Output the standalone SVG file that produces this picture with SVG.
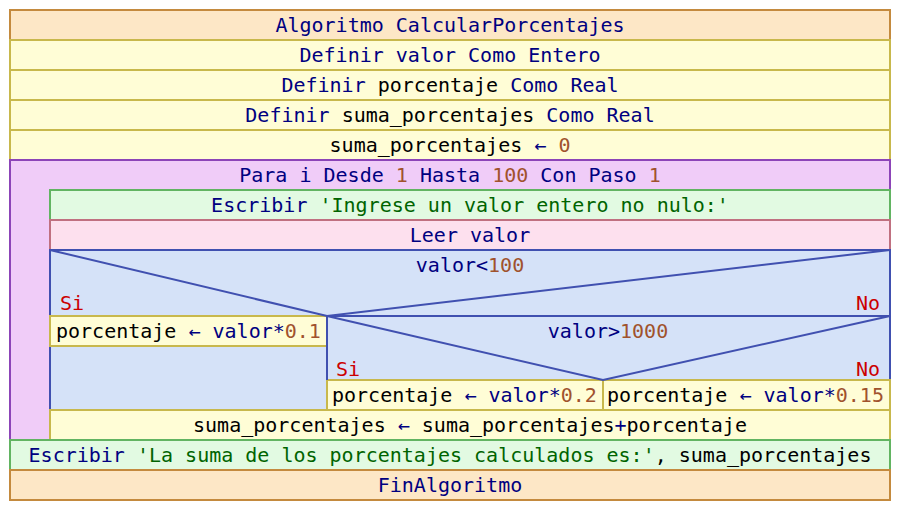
<svg xmlns="http://www.w3.org/2000/svg" width="900" height="512" viewBox="0 0 900 512">
<style>
text{font-family:"DejaVu Sans Mono","Liberation Mono",monospace;font-size:20px;fill:#000080;text-anchor:middle}
.st{text-anchor:start}
.end{text-anchor:end}
.v{fill:#000000}
.n{fill:#a0522d}
.s{fill:#006400}
.r{fill:#cc0000}
.hd{fill:#fde7c6;stroke:#c48a3e;stroke-width:2}
.yl{fill:#fffdd6;stroke:#c8b84c;stroke-width:2}
.pu{fill:#f0ccf8;stroke:#8c44b8;stroke-width:2}
.gr{fill:#e2fae2;stroke:#62b462;stroke-width:2}
.pk{fill:#fde0ee;stroke:#c07080;stroke-width:2}
.bl{fill:#d5e2f8;stroke:#4050b0;stroke-width:2}
.ln{fill:none;stroke:#4050b0;stroke-width:2}
</style>
<rect width="900" height="512" fill="#ffffff"/>
<g id="n_alg"><rect class="hd" x="10" y="10" width="880" height="30"/><text x="450" y="32">Algoritmo CalcularPorcentajes</text></g>
<g id="n_def1"><rect class="yl" x="10" y="40" width="880" height="30"/><text x="450" y="62">Definir valor Como Entero</text></g>
<g id="n_def2"><rect class="yl" x="10" y="70" width="880" height="30"/><text x="450" y="92"><tspan>Definir </tspan><tspan class="v">porcentaje</tspan><tspan> Como Real</tspan></text></g>
<g id="n_def3"><rect class="yl" x="10" y="100" width="880" height="30"/><text x="450" y="122"><tspan>Definir </tspan><tspan class="v">suma_porcentajes</tspan><tspan> Como Real</tspan></text></g>
<g id="n_init"><rect class="yl" x="10" y="130" width="880" height="30"/><text x="450" y="152"><tspan class="v">suma_porcentajes </tspan><tspan>← </tspan><tspan class="n">0</tspan></text></g>
<g id="n_para"><rect class="pu" x="10" y="160" width="880" height="280"/><text x="450" y="182"><tspan>Para i Desde </tspan><tspan class="n">1</tspan><tspan> Hasta </tspan><tspan class="n">100</tspan><tspan> Con Paso </tspan><tspan class="n">1</tspan></text></g>
<g id="n_esc1"><rect class="gr" x="50" y="190" width="840" height="30"/><text x="470" y="212"><tspan>Escribir </tspan><tspan class="s">'Ingrese un valor entero no nulo:'</tspan></text></g>
<g id="n_leer"><rect class="pk" x="50" y="220" width="840" height="30"/><text x="470" y="242">Leer valor</text></g>
<g id="n_if1"><rect class="bl" x="50" y="250" width="840" height="160"/><text x="470" y="272"><tspan>valor&lt;</tspan><tspan class="n">100</tspan></text><text class="st r" x="60" y="310">Si</text><text class="end r" x="880" y="310">No</text></g>
<g id="n_p1"><rect class="yl" x="50" y="316" width="277" height="30"/><text class="st" x="56" y="338"><tspan class="v">porcentaje </tspan><tspan>← valor*</tspan><tspan class="n">0.1</tspan></text></g>
<g id="n_if2"><text x="608" y="338"><tspan>valor&gt;</tspan><tspan class="n">1000</tspan></text><text class="st r" x="336" y="376">Si</text><text class="end r" x="880" y="376">No</text></g>
<g id="n_p2"><rect class="yl" x="327" y="380" width="276" height="30"/><text class="st" x="332" y="402"><tspan class="v">porcentaje </tspan><tspan>← valor*</tspan><tspan class="n">0.2</tspan></text></g>
<g id="n_p3"><rect class="yl" x="603" y="380" width="287" height="30"/><text class="st" x="607" y="402"><tspan class="v">porcentaje </tspan><tspan>← valor*</tspan><tspan class="n">0.15</tspan></text></g>
<g id="n_sum"><rect class="yl" x="50" y="410" width="840" height="30"/><text x="470" y="432"><tspan class="v">suma_porcentajes </tspan><tspan>← </tspan><tspan class="v">suma_porcentajes</tspan><tspan>+</tspan><tspan class="v">porcentaje</tspan></text></g>
<g id="n_esc2"><rect class="gr" x="10" y="440" width="880" height="30"/><text x="450" y="462"><tspan>Escribir </tspan><tspan class="s">'La suma de los porcentajes calculados es:'</tspan><tspan class="v">, suma_porcentajes</tspan></text></g>
<g id="n_fin"><rect class="hd" x="10" y="470" width="880" height="30"/><text x="450" y="492">FinAlgoritmo</text></g>
<g id="connectors">
<polyline class="ln" points="50,250 327,316 890,250"/>
<line class="ln" x1="327" y1="316" x2="890" y2="316"/>
<line class="ln" x1="327" y1="316" x2="327" y2="380"/>
<polyline class="ln" points="327,316 603,380 890,316"/>
</g>
</svg>
